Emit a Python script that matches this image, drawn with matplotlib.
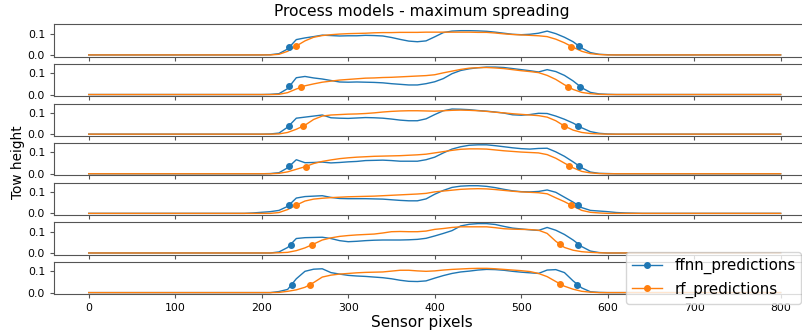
import numpy as np
import matplotlib.pyplot as plt
from matplotlib.lines import Line2D

# abscisse commune (pixels capteur)
pixels = [0, 180, 190, 200, 210, 220, 230, 240, 250, 260, 270, 280, 290, 300, 310, 320, 330,
          340, 350, 360, 370, 380, 390, 400, 410, 420, 430, 440, 450, 460, 470, 480, 490,
          500, 510, 520, 530, 540, 550, 560, 570, 580, 590, 600, 610, 620, 630, 640, 800]

# ffnn_predictions, une liste par sous-graphe
ffnn_1 = [0, 0, 0, 0, 0.001, 0.006, 0.028, 0.072, 0.080, 0.086, 0.093, 0.091, 0.089, 0.090, 0.090, 0.092, 0.091,
          0.089, 0.082, 0.073, 0.065, 0.062, 0.066, 0.085, 0.105, 0.112, 0.114, 0.114, 0.113, 0.111, 0.107, 0.102, 0.097,
          0.095, 0.097, 0.102, 0.112, 0.100, 0.083, 0.062, 0.032, 0.011, 0.003, 0.001, 0, 0, 0, 0, 0]
ffnn_2 = [0, 0, 0, 0, 0.001, 0.004, 0.028, 0.079, 0.085, 0.078, 0.073, 0.066, 0.059, 0.058, 0.059, 0.058, 0.057,
          0.055, 0.051, 0.048, 0.045, 0.045, 0.051, 0.060, 0.075, 0.098, 0.113, 0.121, 0.126, 0.129, 0.129, 0.127, 0.122,
          0.117, 0.112, 0.106, 0.117, 0.108, 0.090, 0.064, 0.032, 0.010, 0.003, 0.001, 0, 0, 0, 0, 0]
ffnn_3 = [0, 0, 0, 0, 0.001, 0.005, 0.033, 0.075, 0.080, 0.085, 0.090, 0.077, 0.075, 0.074, 0.076, 0.078, 0.077,
          0.075, 0.071, 0.066, 0.063, 0.063, 0.072, 0.092, 0.110, 0.118, 0.117, 0.115, 0.111, 0.108, 0.104, 0.099, 0.091,
          0.089, 0.092, 0.098, 0.097, 0.085, 0.070, 0.052, 0.030, 0.012, 0.004, 0.001, 0, 0, 0, 0, 0]
ffnn_4 = [0, 0, 0, 0, 0.001, 0.005, 0.028, 0.066, 0.052, 0.053, 0.055, 0.051, 0.053, 0.056, 0.058, 0.062, 0.063,
          0.064, 0.062, 0.059, 0.059, 0.059, 0.066, 0.078, 0.098, 0.116, 0.127, 0.134, 0.136, 0.136, 0.132, 0.127, 0.122,
          0.118, 0.116, 0.119, 0.120, 0.103, 0.082, 0.056, 0.028, 0.008, 0.002, 0.001, 0, 0, 0, 0, 0]
ffnn_5 = [0, 0, 0.002, 0.005, 0.008, 0.014, 0.033, 0.072, 0.079, 0.081, 0.083, 0.075, 0.070, 0.069, 0.069, 0.069, 0.068,
          0.067, 0.064, 0.061, 0.059, 0.059, 0.068, 0.090, 0.108, 0.122, 0.128, 0.130, 0.130, 0.127, 0.121, 0.113, 0.106,
          0.102, 0.101, 0.103, 0.110, 0.099, 0.076, 0.053, 0.027, 0.014, 0.011, 0.008, 0.004, 0.002, 0.001, 0, 0]
ffnn_6 = [0, 0, 0, 0, 0, 0.005, 0.026, 0.068, 0.072, 0.073, 0.074, 0.068, 0.058, 0.053, 0.055, 0.058, 0.060,
          0.061, 0.061, 0.061, 0.062, 0.064, 0.069, 0.080, 0.092, 0.105, 0.127, 0.135, 0.138, 0.138, 0.134, 0.125, 0.117,
          0.113, 0.109, 0.106, 0.120, 0.107, 0.087, 0.061, 0.030, 0.009, 0.002, 0, 0, 0, 0, 0, 0]
ffnn_7 = [0, 0, 0, 0, 0, 0.005, 0.015, 0.065, 0.100, 0.110, 0.112, 0.094, 0.087, 0.081, 0.078, 0.076, 0.073,
          0.070, 0.065, 0.058, 0.053, 0.052, 0.055, 0.068, 0.080, 0.090, 0.097, 0.101, 0.106, 0.109, 0.108, 0.105, 0.100,
          0.096, 0.093, 0.090, 0.106, 0.108, 0.094, 0.055, 0.022, 0.004, 0.001, 0, 0, 0, 0, 0, 0]

# rf_predictions
rf_1 = [0, 0, 0, 0, 0, 0.003, 0.017, 0.042, 0.066, 0.083, 0.091, 0.095, 0.098, 0.100, 0.101, 0.102, 0.104,
        0.105, 0.105, 0.106, 0.106, 0.106, 0.107, 0.107, 0.107, 0.107, 0.107, 0.107, 0.106, 0.106, 0.103, 0.099, 0.096,
        0.094, 0.092, 0.090, 0.086, 0.074, 0.057, 0.036, 0.017, 0.006, 0.002, 0, 0, 0, 0, 0, 0]
rf_2 = [0, 0, 0, 0, 0, 0.001, 0.009, 0.026, 0.041, 0.050, 0.058, 0.063, 0.068, 0.071, 0.074, 0.077, 0.078,
        0.080, 0.081, 0.083, 0.085, 0.087, 0.089, 0.093, 0.102, 0.110, 0.118, 0.124, 0.126, 0.127, 0.125, 0.122, 0.117,
        0.112, 0.108, 0.103, 0.090, 0.071, 0.046, 0.024, 0.010, 0.004, 0.001, 0, 0, 0, 0, 0, 0]
rf_3 = [0, 0, 0, 0, 0, 0.001, 0.008, 0.023, 0.042, 0.069, 0.085, 0.090, 0.092, 0.094, 0.095, 0.097, 0.100,
        0.104, 0.107, 0.109, 0.110, 0.110, 0.109, 0.108, 0.110, 0.112, 0.113, 0.112, 0.110, 0.107, 0.103, 0.100, 0.096,
        0.093, 0.090, 0.087, 0.080, 0.063, 0.038, 0.019, 0.008, 0.003, 0.001, 0, 0, 0, 0, 0, 0]
rf_4 = [0, 0, 0, 0, 0, 0.002, 0.009, 0.021, 0.033, 0.048, 0.058, 0.065, 0.071, 0.075, 0.078, 0.080, 0.082,
        0.083, 0.084, 0.085, 0.087, 0.089, 0.092, 0.098, 0.104, 0.110, 0.115, 0.117, 0.117, 0.116, 0.112, 0.108, 0.105,
        0.102, 0.100, 0.098, 0.090, 0.073, 0.050, 0.028, 0.011, 0.004, 0.001, 0, 0, 0, 0, 0, 0]
rf_5 = [0, 0, 0, 0, 0, 0.004, 0.018, 0.039, 0.058, 0.067, 0.071, 0.074, 0.076, 0.078, 0.079, 0.080, 0.081,
        0.083, 0.085, 0.087, 0.089, 0.091, 0.094, 0.101, 0.105, 0.109, 0.113, 0.115, 0.116, 0.115, 0.112, 0.108, 0.104,
        0.101, 0.099, 0.097, 0.092, 0.073, 0.055, 0.034, 0.014, 0.005, 0.002, 0, 0, 0, 0, 0, 0]
rf_6 = [0, 0, 0, 0, 0, 0.001, 0.003, 0.011, 0.024, 0.042, 0.061, 0.071, 0.078, 0.082, 0.085, 0.087, 0.089,
        0.094, 0.100, 0.101, 0.100, 0.100, 0.103, 0.111, 0.115, 0.120, 0.123, 0.123, 0.123, 0.123, 0.119, 0.114, 0.112,
        0.111, 0.110, 0.107, 0.092, 0.055, 0.026, 0.013, 0.006, 0.003, 0.001, 0, 0, 0, 0, 0, 0]
rf_7 = [0, 0, 0, 0, 0, 0.001, 0.006, 0.013, 0.025, 0.047, 0.073, 0.082, 0.087, 0.090, 0.093, 0.095, 0.096,
        0.097, 0.101, 0.105, 0.105, 0.102, 0.100, 0.102, 0.106, 0.109, 0.111, 0.113, 0.114, 0.114, 0.112, 0.109, 0.106,
        0.103, 0.099, 0.090, 0.075, 0.052, 0.030, 0.016, 0.006, 0.002, 0, 0, 0, 0, 0, 0, 0]

ffnn = [ffnn_1, ffnn_2, ffnn_3, ffnn_4, ffnn_5, ffnn_6, ffnn_7]
rf = [rf_1, rf_2, rf_3, rf_4, rf_5, rf_6, rf_7]

# points des bords (x, y) pour chaque sous-graphe
ffnn_bords_x = [[232, 567], [232, 568], [232, 566], [232, 567], [232, 566], [234, 566], [235, 565]]
ffnn_bords_y = [[0.038, 0.041], [0.039, 0.037], [0.038, 0.040], [0.036, 0.036], [0.040, 0.040], [0.038, 0.038], [0.037, 0.038]]
rf_bords_x = [[240, 558], [245, 554], [248, 550], [251, 555], [240, 558], [258, 545], [256, 545]]
rf_bords_y = [[0.042, 0.039], [0.035, 0.036], [0.038, 0.038], [0.034, 0.038], [0.039, 0.039], [0.038, 0.040], [0.038, 0.040]]

bleu = '#1f77b4'
orange = '#ff7f0e'

fig = plt.figure(figsize=(8.03, 3.35), dpi=100)
axes = fig.subplots(7, 1, sharex=True)
fig.subplots_adjust(left=0.0674, right=1.0153, top=0.9275, bottom=0.1215, hspace=0.225)

for k in range(7):
    ax = axes[k]
    ax.plot(pixels, ffnn[k], color=bleu, lw=1)
    ax.plot(pixels, rf[k], color=orange, lw=1)
    ax.plot(ffnn_bords_x[k], ffnn_bords_y[k], 'o', color=bleu, ms=4)
    ax.plot(rf_bords_x[k], rf_bords_y[k], 'o', color=orange, ms=4)
    ax.set_xlim(-40, 840)
    ax.set_ylim(-0.008, 0.144)
    ax.set_yticks([0.0, 0.1])
    ax.set_yticklabels(['0.0', '0.1'])
    ax.tick_params(labelsize=7.8, color='#555555', length=3)
    for sp in ax.spines.values():
        sp.set_color('#555555')

axes[-1].set_xticks([0, 100, 200, 300, 400, 500, 600, 700, 800])

fig.text(0.5255, 0.967, 'Process models - maximum spreading', ha='center', va='center', fontsize=11.2)
fig.text(0.5255, 0.038, 'Sensor pixels', ha='center', va='center', fontsize=11)
fig.text(0.022, 0.515, 'Tow height', ha='center', va='center', rotation=90, fontsize=9.8)

poignees = [Line2D([], [], color=bleu, lw=1, marker='o', ms=4),
            Line2D([], [], color=orange, lw=1, marker='o', ms=4)]
fig.legend(poignees, ['ffnn_predictions', 'rf_predictions'], loc='lower left',
           bbox_to_anchor=(625.7 / 803, 1 - 304 / 335), borderaxespad=0, fontsize=10.9)

fig.savefig('out.png', dpi=100)
